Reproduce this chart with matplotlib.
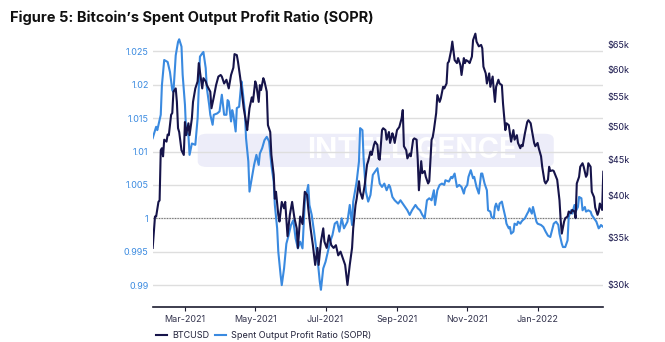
import matplotlib
matplotlib.use('Agg')
import matplotlib.pyplot as plt
import matplotlib.dates as mdates
from matplotlib.patches import FancyBboxPatch
from matplotlib.ticker import FuncFormatter, FixedLocator, NullLocator
import numpy as np
import pandas as pd

plt.rcParams.update({'font.family': ['Inter', 'DejaVu Sans'], 'font.size': 6.5})

start = pd.Timestamp('2021-02-01')

# BTC daily close (thousands USD), day offsets from 2021-02-01
btc_day = [0, 2, 3, 5, 6, 7, 8, 9, 10, 12, 13, 14, 16, 17, 18, 20, 21, 22, 23, 25,
           27, 28, 29, 31, 32, 34, 35, 37, 39, 40, 42, 43, 44, 46, 47, 50, 51, 53, 55, 57,
           59, 60, 62, 64, 66, 68, 70, 71, 73, 74, 76, 78, 79, 81, 82, 84, 86, 87, 89, 90,
           92, 93, 94, 96, 97, 99, 100, 102, 103, 105, 106, 107, 109, 110, 112, 114, 115, 117, 119, 121,
           123, 125, 126, 128, 130, 132, 134, 135, 137, 139, 141, 143, 144, 146, 148, 149, 151, 153, 155, 157,
           159, 161, 163, 165, 167, 169, 171, 173, 174, 176, 177, 179, 180, 182, 184, 186, 187, 189, 190, 192,
           193, 195, 196, 197, 199, 200, 202, 203, 205, 206, 208, 209, 210, 212, 214, 216, 217, 218, 220, 221,
           223, 224, 226, 227, 229, 230, 231, 233, 234, 236, 237, 239, 240, 242, 243, 244, 246, 247, 249, 250,
           252, 253, 255, 256, 257, 259, 260, 262, 264, 265, 267, 268, 270, 271, 272, 274, 275, 277, 278, 280,
           281, 283, 285, 286, 287, 289, 290, 292, 293, 295, 296, 297, 298, 300, 301, 303, 304, 306, 307, 309,
           310, 311, 313, 314, 316, 317, 319, 320, 321, 323, 325, 326, 328, 329, 331, 332, 334, 335, 337, 338,
           340, 341, 343, 344, 345, 347, 348, 350, 351, 353, 354, 355, 357, 358, 360, 361, 363, 364, 366, 367,
           368, 370, 371, 373, 374, 376, 377, 378, 380, 381, 383, 384, 386, 387, 388, 390, 391]
btc_k = [33.8, 37.4, 37.4, 39.2, 39.4, 46.3, 46.6, 45.4, 47.9, 47.6, 48.7, 48.6, 51.9, 52.2, 55.9, 56.5, 54.1, 49.7, 49.1, 46.3,
         45.6, 50.7, 48.6, 50.5, 48.6, 51.3, 54.1, 56.5, 57.8, 61.3, 58.1, 56.5, 58.4, 57.8, 57.1, 55.9, 53.0, 54.9, 57.1, 58.7,
         59.0, 58.7, 57.4, 58.1, 56.5, 59.0, 60.4, 63.1, 62.9, 61.6, 58.4, 54.7, 53.0, 50.7, 49.4, 53.0, 54.9, 54.1, 57.8, 57.1,
         54.1, 57.1, 56.2, 58.4, 57.8, 55.9, 50.2, 49.1, 45.6, 42.8, 39.6, 40.5, 37.6, 36.8, 39.2, 38.4, 39.2, 35.1, 37.6, 39.2,
         37.2, 36.0, 33.8, 37.4, 36.5, 40.5, 40.1, 38.4, 36.0, 34.1, 32.0, 33.8, 32.0, 34.5, 36.0, 34.5, 33.8, 35.2, 34.1, 33.8,
         34.1, 33.0, 33.4, 32.7, 32.0, 30.0, 32.0, 33.8, 36.0, 38.8, 39.6, 41.9, 40.5, 39.6, 41.4, 44.2, 44.7, 46.1, 45.6, 47.1,
         47.6, 47.1, 45.1, 44.9, 49.4, 49.7, 49.4, 47.9, 49.1, 47.4, 48.9, 48.3, 47.4, 49.4, 49.9, 51.3, 52.7, 46.9, 46.3, 45.1,
         45.8, 45.4, 47.9, 48.1, 47.9, 44.9, 40.7, 44.7, 43.0, 43.3, 42.5, 41.6, 41.9, 47.9, 48.3, 49.4, 52.2, 55.3, 54.1, 54.7,
         56.8, 56.5, 57.4, 61.3, 61.6, 63.9, 65.7, 61.9, 61.3, 62.3, 60.9, 59.0, 62.3, 61.3, 61.9, 61.6, 61.3, 62.6, 66.0, 67.4,
         65.7, 64.7, 65.0, 64.3, 60.6, 59.3, 57.4, 59.3, 56.8, 58.7, 56.2, 54.1, 56.8, 58.1, 57.4, 57.1, 53.8, 49.4, 50.5, 50.2,
         48.9, 47.6, 49.4, 47.9, 48.6, 47.4, 46.6, 47.1, 46.9, 48.9, 50.7, 51.0, 50.5, 49.4, 47.4, 46.9, 47.4, 46.6, 45.4, 43.9,
         41.9, 41.6, 42.1, 43.9, 43.3, 43.4, 43.3, 42.5, 42.1, 39.4, 37.0, 35.4, 36.8, 37.2, 37.4, 38.0, 37.8, 38.2, 38.0, 37.2,
         41.6, 42.5, 43.9, 44.4, 43.9, 42.5, 42.8, 44.4, 43.9, 40.5, 39.8, 38.5, 37.6, 38.0, 39.0, 38.2, 43.2]

# Spent Output Profit Ratio, day offsets from 2021-02-01
sopr_day = [0, 3, 4, 7, 8, 10, 13, 15, 17, 18, 20, 22, 23, 25, 26, 28, 29, 31, 32, 34,
            37, 39, 41, 43, 44, 46, 47, 49, 50, 52, 53, 56, 58, 60, 62, 64, 65, 66, 68, 69,
            70, 72, 73, 75, 77, 78, 80, 81, 83, 84, 86, 88, 90, 92, 93, 95, 97, 99, 101, 103,
            105, 106, 108, 109, 111, 112, 114, 116, 118, 120, 122, 124, 126, 128, 130, 132, 135, 136, 138, 140,
            143, 145, 146, 148, 150, 152, 154, 156, 158, 160, 162, 164, 166, 169, 171, 173, 174, 177, 179, 180,
            182, 183, 185, 187, 189, 191, 193, 195, 197, 199, 201, 203, 205, 206, 208, 210, 213, 215, 217, 219,
            221, 223, 225, 228, 230, 232, 234, 236, 238, 240, 242, 244, 245, 247, 249, 251, 253, 254, 257, 259,
            260, 262, 264, 266, 268, 270, 271, 273, 274, 276, 278, 279, 281, 283, 285, 286, 288, 290, 291, 293,
            294, 296, 297, 298, 300, 301, 303, 304, 306, 307, 309, 310, 311, 313, 314, 316, 317, 319, 320, 321,
            323, 325, 326, 327, 329, 330, 332, 333, 334, 337, 339, 341, 343, 345, 347, 348, 350, 352, 353, 355,
            356, 358, 360, 361, 363, 364, 366, 367, 369, 370, 372, 373, 375, 376, 378, 380, 381, 383, 385, 387,
            388, 389, 391]
sopr = [1.0120, 1.0137, 1.0132, 1.0155, 1.0199, 1.0237, 1.0234, 1.0219, 1.0192, 1.0189, 1.0244, 1.0264, 1.0268, 1.0257, 1.0215, 1.0170, 1.0130, 1.0125, 1.0095, 1.0112,
        1.0110, 1.0150, 1.0242, 1.0247, 1.0249, 1.0225, 1.0195, 1.0170, 1.0155, 1.0140, 1.0155, 1.0157, 1.0160, 1.0185, 1.0155, 1.0155, 1.0177, 1.0175, 1.0145, 1.0162,
        1.0155, 1.0130, 1.0165, 1.0167, 1.0205, 1.0192, 1.0160, 1.0120, 1.0085, 1.0040, 1.0060, 1.0080, 1.0095, 1.0080, 1.0097, 1.0105, 1.0117, 1.0122, 1.0115, 1.0080,
        1.0055, 1.0020, 0.9985, 0.9950, 0.9915, 0.9900, 0.9925, 0.9962, 0.9975, 0.9990, 0.9997, 0.9970, 0.9955, 0.9965, 0.9955, 1.0025, 1.0050, 1.0020, 1.0005, 0.9980,
        0.9940, 0.9905, 0.9893, 0.9925, 0.9935, 0.9950, 0.9965, 0.9975, 0.9992, 0.9995, 0.9980, 1.0000, 0.9985, 0.9995, 1.0020, 0.9990, 1.0025, 1.0055, 1.0085, 1.0135,
        1.0132, 1.0090, 1.0040, 1.0025, 1.0035, 1.0065, 1.0070, 1.0075, 1.0052, 1.0047, 1.0052, 1.0042, 1.0050, 1.0047, 1.0032, 1.0027, 1.0022, 1.0027, 1.0022, 1.0017,
        1.0012, 1.0005, 1.0012, 1.0020, 1.0015, 1.0012, 1.0005, 1.0000, 1.0027, 1.0030, 1.0027, 1.0042, 1.0020, 1.0042, 1.0050, 1.0052, 1.0050, 1.0057, 1.0055, 1.0062,
        1.0060, 1.0067, 1.0047, 1.0050, 1.0047, 1.0037, 1.0045, 1.0050, 1.0062, 1.0072, 1.0060, 1.0062, 1.0047, 1.0037, 1.0067, 1.0067, 1.0052, 1.0042, 1.0012, 1.0010,
        1.0002, 1.0000, 1.0017, 1.0022, 1.0012, 1.0022, 1.0025, 1.0017, 1.0002, 0.9992, 0.9985, 0.9987, 0.9977, 0.9980, 0.9992, 0.9990, 0.9995, 0.9992, 0.9995, 0.9997,
        1.0000, 1.0007, 1.0010, 1.0015, 1.0007, 1.0017, 1.0002, 0.9995, 0.9992, 0.9990, 0.9987, 0.9980, 0.9974, 0.9972, 0.9985, 0.9992, 0.9995, 0.9990, 0.9977, 0.9962,
        0.9957, 0.9957, 0.9967, 1.0002, 1.0012, 1.0007, 1.0020, 1.0010, 1.0017, 1.0032, 1.0030, 1.0012, 1.0017, 1.0010, 1.0012, 1.0010, 1.0005, 1.0000, 0.9995, 0.9985,
        0.9987, 0.9990, 0.9987]

sopr_ticks = [0.99, 0.995, 1.0, 1.005, 1.01, 1.015, 1.02, 1.025]
btc_ticks = [30, 35, 40, 45, 50, 55, 60, 65]

btc_dates = start + pd.to_timedelta(btc_day, unit='D')
sopr_dates = start + pd.to_timedelta(sopr_day, unit='D')

NAVY = '#16144a'
BLUE = '#3a8ae0'
GRID = '#dedede'

fig = plt.figure(figsize=(6.65, 3.42), dpi=100)
ax = fig.add_axes([0.2296, 0.1032, 0.6776, 0.8091])
ax2 = ax.twinx()

ax.set_xlim(start, start + pd.Timedelta(days=391))
ax.set_ylim(0.98677, 1.02819)
ax2.set_yscale('log')
ax2.set_ylim(27.97, 68.2)

# watermark
wm = FancyBboxPatch((0.10, 0.505), 0.79, 0.12, boxstyle='round,pad=0,rounding_size=0.02',
                    transform=ax.transAxes, facecolor='#ededf9', edgecolor='none', zorder=0)
ax.add_patch(wm)
ax.text(0.575, 0.565, 'INTELLIGENCE', transform=ax.transAxes, ha='center', va='center',
        fontsize=21, fontweight='bold', color='white', zorder=0.5)

# gridlines for both axes, drawn under both series
for v in sopr_ticks:
    ax.axhline(v, color=GRID, lw=1.0, zorder=1)
for t in btc_ticks:
    f = ax2.transLimits.transform((0, t))[1]
    ax.plot([0, 1], [f, f], transform=ax.transAxes, color=GRID, lw=1.0, zorder=1)
ax.axhline(1.0, color='#777777', lw=0.8, ls=(0, (1.2, 1.2)), zorder=2)

l_sopr, = ax.plot(sopr_dates, sopr, color=BLUE, lw=1.5, zorder=3)
l_btc, = ax2.plot(btc_dates, btc_k, color=NAVY, lw=1.5, zorder=3)

for a in (ax, ax2):
    for s in ('top', 'left', 'right'):
        a.spines[s].set_visible(False)
ax2.spines['bottom'].set_visible(False)
ax.spines['bottom'].set_color('#1c1c30')
ax.spines['bottom'].set_linewidth(1.2)

ax.yaxis.set_major_locator(FixedLocator(sopr_ticks))
ax.yaxis.set_major_formatter(FuncFormatter(lambda v, p: f'{v:g}'))
ax.tick_params(axis='y', length=0, pad=3, labelcolor=BLUE, labelsize=6.5)

ax2.yaxis.set_major_locator(FixedLocator(btc_ticks))
ax2.yaxis.set_minor_locator(NullLocator())
ax2.yaxis.set_major_formatter(FuncFormatter(lambda v, p: f'${v:.0f}k'))
ax2.tick_params(axis='y', which='both', length=0, pad=3, labelcolor=NAVY, labelsize=6.5)

ax.xaxis.set_major_locator(mdates.MonthLocator(bymonth=[1, 3, 5, 7, 9, 11]))
ax.xaxis.set_major_formatter(mdates.DateFormatter('%b-%Y'))
ax.tick_params(axis='x', length=3, width=0.8, color='#1c1c30', pad=3,
               labelcolor='#33334d', labelsize=6.5)

fig.text(0.015, 0.948, 'Figure 5: Bitcoin\u2019s Spent Output Profit Ratio (SOPR)',
         fontsize=10.5, fontweight='bold', color='#111111', ha='left', va='center')

fig.legend([l_btc, l_sopr], ['BTCUSD', 'Spent Output Profit Ratio (SOPR)'],
           loc='lower left', bbox_to_anchor=(0.222, -0.018), ncol=2, frameon=False,
           fontsize=6.5, handlelength=1.3, handletextpad=0.5, columnspacing=0.6,
           labelcolor='#22223a')

fig.savefig('out.png', dpi=100)
